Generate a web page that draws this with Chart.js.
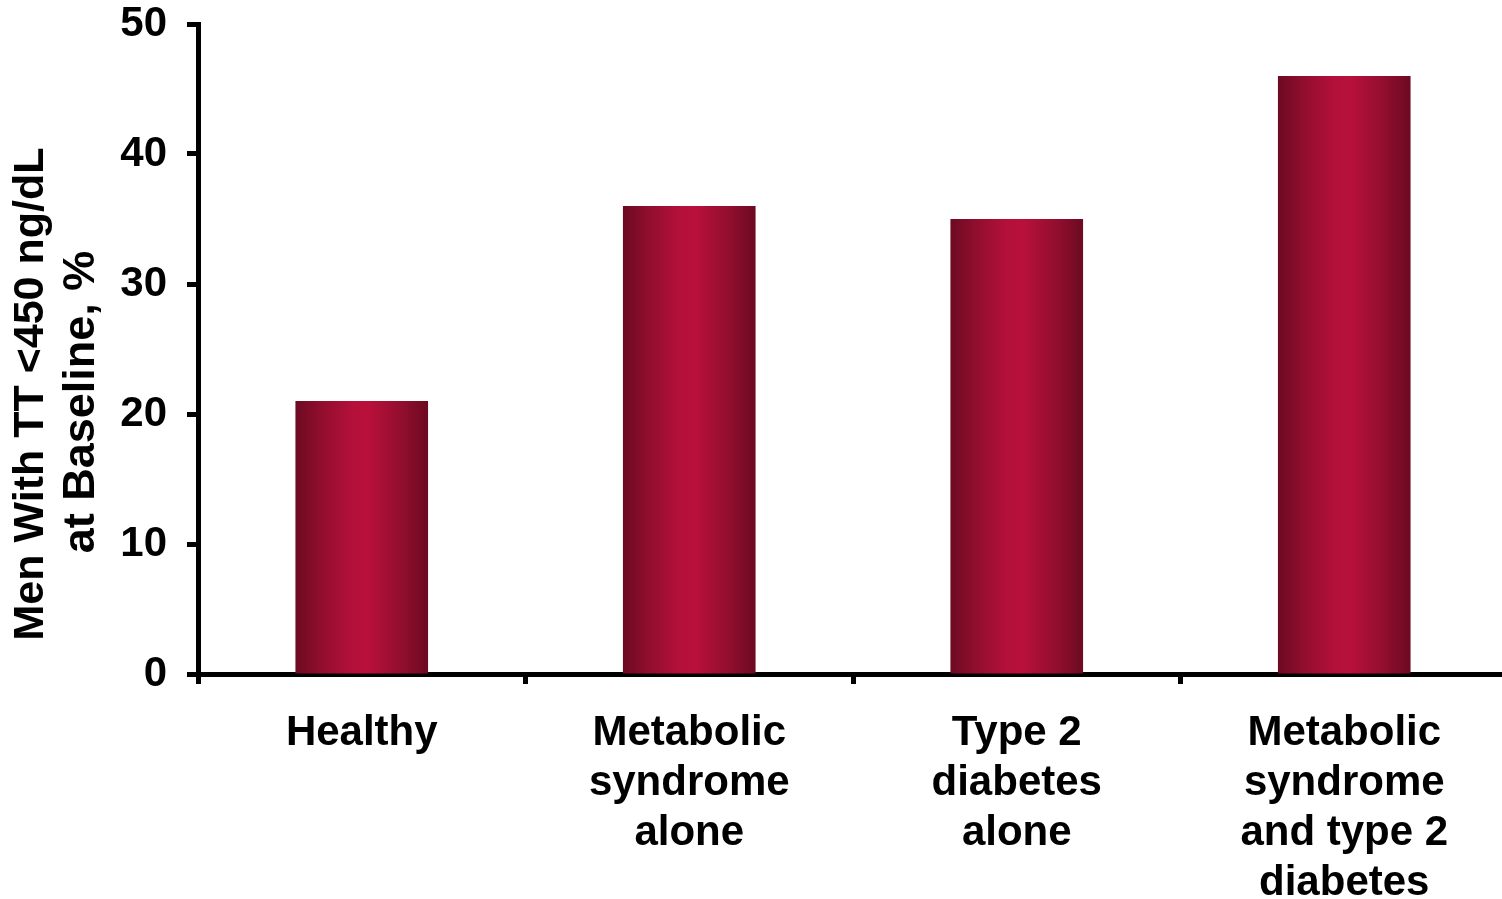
<!DOCTYPE html>
<html>
<head>
<meta charset="utf-8">
<title>Men With TT &lt;450 ng/dL at Baseline</title>
<script src="https://cdn.jsdelivr.net/npm/chart.js@4.4.1/dist/chart.umd.min.js"></script>
<style>
  html, body { margin: 0; padding: 0; background: #fff; overflow: hidden; }
  #wrap { width: 1508px; height: 899px; }
</style>
</head>
<body>
<div id="wrap"><canvas id="chart" width="1508" height="899"></canvas></div>
<script>
// categories and values
const groups = [
  "Healthy",
  ["Metabolic", "syndrome", "alone"],
  ["Type 2", "diabetes", "alone"],
  ["Metabolic", "syndrome", "and type 2", "diabetes"],
];
const lowTTPercent = [21, 36, 35, 46];
const yTicks = [0, 10, 20, 30, 40, 50];
const yTitle = ["Men With TT <450 ng/dL", "at Baseline, %"];

const FONT = "'Liberation Sans', Arial, Helvetica, sans-serif";
const BAR_PCT = 0.405;

// dark edges, bright crimson middle
function barGradient(ctx) {
  const chart = ctx.chart;
  const x = chart.scales && chart.scales.x;
  if (!chart.chartArea || !x || ctx.type !== "data") return "#b8103a";
  const center = x.getPixelForValue(ctx.dataIndex);
  const half = (x.width / groups.length) * BAR_PCT / 2;
  const g = chart.ctx.createLinearGradient(center - half, 0, center + half, 0);
  g.addColorStop(0, "#6c0a22");
  g.addColorStop(0.2, "#920e2e");
  g.addColorStop(0.42, "#b3103a");
  g.addColorStop(0.55, "#b8103b");
  g.addColorStop(0.8, "#920e2e");
  g.addColorStop(1, "#6c0a22");
  return g;
}

// rotated two-line y title, sitting a bit below the axis middle
const yTitlePlugin = {
  id: "yTitle",
  afterDraw(chart) {
    const ctx = chart.ctx;
    const lines = [
      { x: 31, y: 394, size: 43 },
      { x: 82, y: 402, size: 45 },
    ];
    ctx.save();
    ctx.fillStyle = "#000";
    ctx.textAlign = "center";
    ctx.textBaseline = "middle";
    yTitle.forEach((t, i) => {
      ctx.save();
      ctx.font = "bold " + lines[i].size + "px " + FONT;
      ctx.translate(lines[i].x, lines[i].y);
      ctx.rotate(-Math.PI / 2);
      ctx.fillText(t, 0, 0);
      ctx.restore();
    });
    ctx.restore();
  },
};

new Chart(document.getElementById("chart"), {
  type: "bar",
  data: {
    labels: groups,
    datasets: [{
      data: lowTTPercent,
      backgroundColor: barGradient,
      borderWidth: 0,
      categoryPercentage: 1,
      barPercentage: BAR_PCT,
    }],
  },
  plugins: [yTitlePlugin],
  options: {
    responsive: false,
    animation: false,
    layout: { padding: { top: 24, right: 0, bottom: 0, left: 0 } },
    plugins: {
      legend: { display: false },
      tooltip: { enabled: false },
    },
    scales: {
      x: {
        offset: true,
        afterFit: (scale) => { scale.height = 225; },
        border: { display: true, color: "#000", width: 5 },
        grid: {
          display: true,
          offset: true,
          drawOnChartArea: false,
          drawTicks: true,
          tickLength: 10,
          tickWidth: 5,
          tickColor: "#000",
        },
        ticks: {
          color: "#000",
          padding: 24,
          maxRotation: 0,
          autoSkip: false,
          font: { family: FONT, size: 42, weight: "bold", lineHeight: 1.19 },
        },
      },
      y: {
        min: 0,
        max: 50,
        afterFit: (scale) => {
          scale.width = 198;
          scale.paddingTop = 0;
          scale.paddingBottom = 0;
        },
        afterBuildTicks: (scale) => { scale.ticks = yTicks.map((v) => ({ value: v })); },
        border: { display: true, color: "#000", width: 5 },
        grid: {
          display: true,
          drawOnChartArea: false,
          drawTicks: true,
          tickLength: 11,
          tickWidth: 5,
          tickColor: "#000",
        },
        ticks: {
          color: "#000",
          padding: 20,
          font: { family: FONT, size: 42, weight: "bold", lineHeight: 1 },
        },
      },
    },
  },
});
</script>
</body>
</html>
